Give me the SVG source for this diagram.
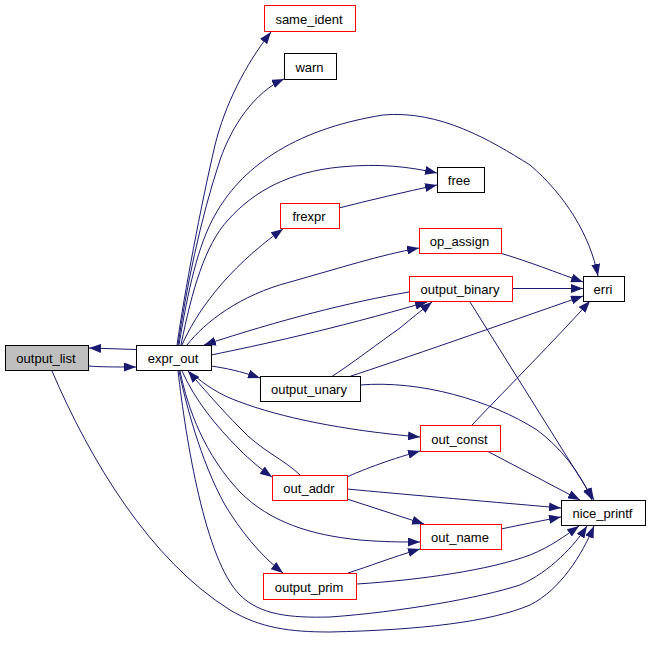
<svg xmlns="http://www.w3.org/2000/svg" width="650" height="645" viewBox="0 0 650 645">
<style>
.e{fill:none;stroke:#191970;stroke-width:1;marker-end:url(#a)}
.n rect{fill:#fff;stroke:#000;stroke-width:1}
.n.r rect{stroke:#ff0000}
.n text{font-family:"Liberation Sans",Arial,sans-serif;font-size:13px;text-anchor:middle;fill:#000}
</style>
<defs>
<marker id="a" markerWidth="12" markerHeight="9" refX="12" refY="4.5" orient="auto" markerUnits="userSpaceOnUse"><path d="M0,0L12,4.5L0,9z" fill="#191970"/></marker>
</defs>
<rect width="650" height="645" fill="#fff"/>
<g id="edges">
<path class="e" d="M136,349.5 L89,348"/>
<path class="e" d="M89,366 C100,367 115,367 136,367"/>
<path class="e" d="M177,345 C185,290 200,210 215,145 C225,105 245,65 271,32"/>
<path class="e" d="M178,345 C186,290 200,220 220,160 C232,125 255,92 284,79"/>
<path class="e" d="M179,345 C188,290 198,245 215,215 C240,170 290,130 383,115 C440,110 490,140 530,165 C565,195 590,235 598,276"/>
<path class="e" d="M181,345 C192,290 205,245 228,220 C255,190 290,172 340,167 C380,163 410,167 437,173"/>
<path class="e" d="M182,345 C195,315 225,270 283,229"/>
<path class="e" d="M339,208 C370,200 405,192 437,185"/>
<path class="e" d="M187,345 C205,322 240,295 290,282 C340,268 380,255 419,248"/>
<path class="e" d="M409,292 C350,302 280,320 204,345"/>
<path class="e" d="M211,355 C260,345 330,330 427,302"/>
<path class="e" d="M331,377 C350,365 380,342 400,328 C412,318 422,310 432,302"/>
<path class="e" d="M500,253 C530,262 555,272 583,282"/>
<path class="e" d="M512,288.5 L583,288.5"/>
<path class="e" d="M348,377 C400,360 500,325 583,296"/>
<path class="e" d="M472,425 C510,385 555,340 590,301"/>
<path class="e" d="M211,366 C225,368 240,371 260,378"/>
<path class="e" d="M360,385 C420,380 490,400 537,430 C560,447 580,472 592,500"/>
<path class="e" d="M470,302 L594,500"/>
<path class="e" d="M487,451 L580,500"/>
<path class="e" d="M347,477 C360,471 385,461 420,451"/>
<path class="e" d="M347,489 C400,494 470,500 561,508"/>
<path class="e" d="M347,499 L424,524"/>
<path class="e" d="M300,475 C285,460 260,450 240,428 C220,408 205,390 188,371"/>
<path class="e" d="M190,372 C205,385 220,395 240,402 C280,417 340,430 420,437"/>
<path class="e" d="M182,371 C195,400 215,425 240,450 C250,460 262,470 272,477"/>
<path class="e" d="M179,371 C185,400 200,460 225,505 C240,530 260,555 283,573"/>
<path class="e" d="M180,371 C188,410 205,455 240,492 C270,522 310,535 360,540 C385,542 400,542 420,542"/>
<path class="e" d="M178,371 C186,440 205,560 240,595 C260,615 290,618 330,617 C400,612 480,598 520,585 C550,572 575,545 587,526"/>
<path class="e" d="M52,371 C90,460 150,560 230,610 C260,628 290,632 330,632 C420,630 490,622 530,605 C560,590 582,555 594,526"/>
<path class="e" d="M348,573 C370,566 390,558 420,549"/>
<path class="e" d="M357,584 C420,580 490,570 530,555 C550,547 565,536 579,526"/>
<path class="e" d="M501,529 C520,525 540,521 561,517"/>
</g>
<g id="same_ident" class="n r"><rect x="264.5" y="5.5" width="91" height="26"/><text x="309" y="23.5">same_ident</text></g>
<g id="warn" class="n"><rect x="284.5" y="53.5" width="52" height="26"/><text x="309.5" y="71.5">warn</text></g>
<g id="free" class="n"><rect x="437.5" y="167.5" width="47" height="25"/><text x="459" y="185">free</text></g>
<g id="frexpr" class="n r"><rect x="280.5" y="203.5" width="59" height="25"/><text x="309" y="221">frexpr</text></g>
<g id="op_assign" class="n r"><rect x="419.5" y="228.5" width="82" height="25"/><text x="459.5" y="246">op_assign</text></g>
<g id="output_binary" class="n r"><rect x="409.5" y="276.5" width="103" height="25"/><text x="460" y="294">output_binary</text></g>
<g id="erri" class="n"><rect x="583.5" y="276.5" width="41" height="25"/><text x="603" y="294">erri</text></g>
<g id="output_list" class="n"><rect x="5.5" y="345.5" width="83" height="25" style="fill:#bfbfbf"/><text x="46" y="363">output_list</text></g>
<g id="expr_out" class="n"><rect x="136.5" y="345.5" width="75" height="25"/><text x="173" y="363">expr_out</text></g>
<g id="output_unary" class="n"><rect x="260.5" y="376.5" width="100" height="25"/><text x="309" y="394">output_unary</text></g>
<g id="out_const" class="n r"><rect x="420.5" y="425.5" width="80" height="26"/><text x="459.5" y="443.5">out_const</text></g>
<g id="out_addr" class="n r"><rect x="272.5" y="475.5" width="75" height="25"/><text x="309" y="493">out_addr</text></g>
<g id="nice_printf" class="n"><rect x="561.5" y="500.5" width="84" height="25"/><text x="602.5" y="518">nice_printf</text></g>
<g id="out_name" class="n r"><rect x="420.5" y="524.5" width="81" height="25"/><text x="460" y="542">out_name</text></g>
<g id="output_prim" class="n r"><rect x="263.5" y="573.5" width="93" height="26"/><text x="309" y="591.5">output_prim</text></g>
</svg>
